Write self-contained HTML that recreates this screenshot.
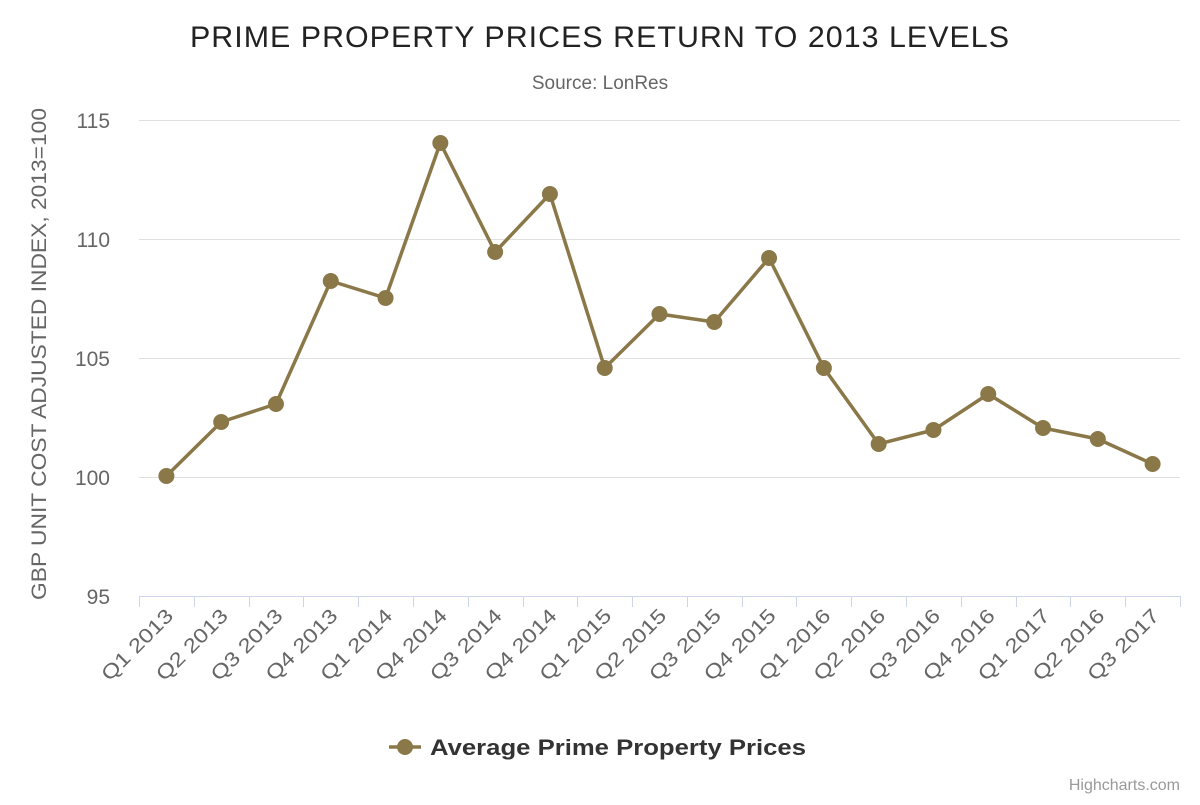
<!DOCTYPE html>
<html><head><meta charset="utf-8"><style>
body{margin:0;background:#fff;}
svg text{font-family:"Liberation Sans",sans-serif;}
</style></head><body>
<svg width="1200" height="800" xmlns="http://www.w3.org/2000/svg">
<rect width="1200" height="800" fill="#fff"/>
<text x="600" y="47" text-anchor="middle" font-size="30" letter-spacing="1" fill="#222" textLength="820" lengthAdjust="spacingAndGlyphs">PRIME PROPERTY PRICES RETURN TO 2013 LEVELS</text>
<text x="600" y="89" text-anchor="middle" font-size="19" fill="#666">Source: LonRes</text>
<g stroke="#e0e0e0" stroke-width="1">
<line x1="139" x2="1180" y1="120.5" y2="120.5"/>
<line x1="139" x2="1180" y1="239.5" y2="239.5"/>
<line x1="139" x2="1180" y1="358.5" y2="358.5"/>
<line x1="139" x2="1180" y1="477.5" y2="477.5"/>
</g>
<line x1="139" x2="1180" y1="596.5" y2="596.5" stroke="#ccd6eb"/>
<g font-size="21" fill="#666" text-anchor="end">
<text x="110" y="128">115</text><text x="110" y="247">110</text><text x="110" y="366">105</text><text x="110" y="485">100</text><text x="110" y="604">95</text>
</g>
<text transform="translate(46,354) rotate(-90)" text-anchor="middle" font-size="21" fill="#666" textLength="492" lengthAdjust="spacingAndGlyphs">GBP UNIT COST ADJUSTED INDEX, 2013=100</text>
<g id="ticks" stroke="#ccd6eb"></g>
<g id="labels" font-size="20" fill="#666"></g>
<polyline id="line" fill="none" stroke="#8b7849" stroke-width="3.5" stroke-linejoin="round"/>
<g id="pts" fill="#8b7849"></g>
<line x1="389" x2="421" y1="747" y2="747" stroke="#8b7849" stroke-width="3.5"/>
<circle cx="405" cy="747" r="8" fill="#8b7849"/>
<text x="430" y="755" font-size="22" font-weight="bold" fill="#333" textLength="376" lengthAdjust="spacingAndGlyphs">Average Prime Property Prices</text>
<text x="1180" y="790" text-anchor="end" font-size="16" fill="#999">Highcharts.com</text>
</svg>
<script>
var ys=[476,422,404,281,298,143,252,194,368,314,322,258,368,444,430,394,428,439,464];
var cats=["Q1 2013","Q2 2013","Q3 2013","Q4 2013","Q1 2014","Q4 2014","Q3 2014","Q4 2014","Q1 2015","Q2 2015","Q3 2015","Q4 2015","Q1 2016","Q2 2016","Q3 2016","Q4 2016","Q1 2017","Q2 2016","Q3 2017"];
var ns="http://www.w3.org/2000/svg",w=1041/19,pts=[],t=document.getElementById("ticks"),l=document.getElementById("labels"),p=document.getElementById("pts");
for(var i=0;i<=19;i++){var x=Math.round(139+i*w)+0.5;var e=document.createElementNS(ns,"line");e.setAttribute("x1",x);e.setAttribute("x2",x);e.setAttribute("y1",596);e.setAttribute("y2",607);t.appendChild(e);}
for(var i=0;i<19;i++){var x=139+w*(i+0.5);pts.push(x+","+ys[i]);
var c=document.createElementNS(ns,"circle");c.setAttribute("cx",x);c.setAttribute("cy",ys[i]);c.setAttribute("r",8);p.appendChild(c);
var tx=document.createElementNS(ns,"text");tx.setAttribute("text-anchor","end");tx.setAttribute("textLength","92");tx.setAttribute("lengthAdjust","spacingAndGlyphs");tx.setAttribute("transform","translate("+(x+8)+",617) rotate(-45)");tx.textContent=cats[i];l.appendChild(tx);}
document.getElementById("line").setAttribute("points",pts.join(" "));
</script>
</body></html>
